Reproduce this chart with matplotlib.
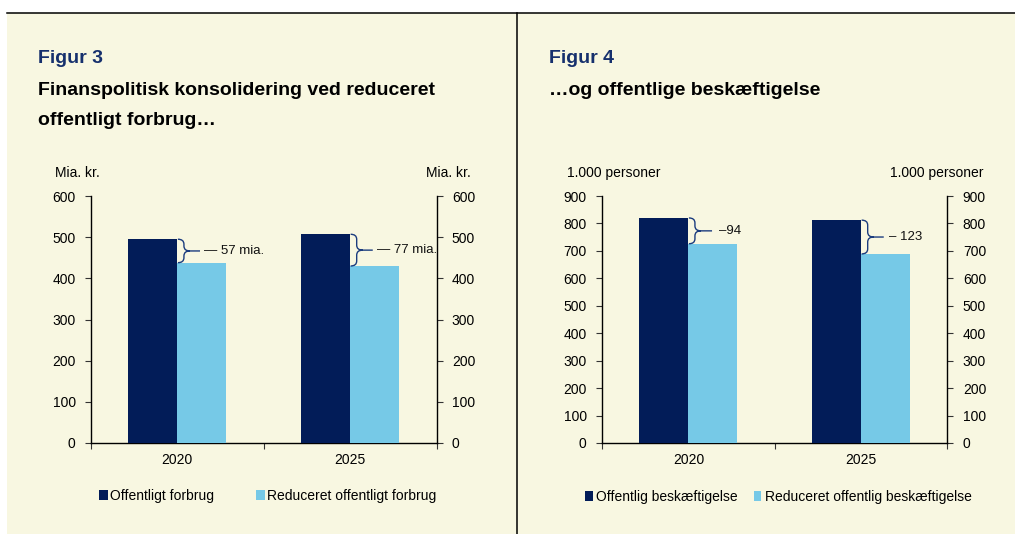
import matplotlib
matplotlib.use("Agg")
import matplotlib.pyplot as plt
from matplotlib.path import Path
from matplotlib.patches import PathPatch, Rectangle
from matplotlib.lines import Line2D

plt.rcParams['font.family'] = ['Liberation Sans', 'DejaVu Sans']
plt.rcParams['font.size'] = 10

# data
years = ['2020', '2025']
forbrug = [495, 507]
forbrug_red = [438, 430]
forbrug_txt = ['\u2014 57 mia.', '\u2014 77 mia.']
besk = [820, 812]
besk_red = [726, 689]
besk_txt = ['\u201394', '\u2013 123']

dark = '#021C58'
light = '#76C9E7'
cream = '#F8F7E1'
navy_txt = '#16306D'
brace_col = '#1B3C7E'

W, H = 1015, 534
fig = plt.figure(figsize=(W / 100, H / 100), dpi=100)
fig.patch.set_facecolor('white')

def fx(px):
    return px / W

def fy(py):
    return 1 - py / H

# cream panel and frame lines
fig.add_artist(Rectangle((fx(7), 0), fx(1015 - 7), fy(12.5), transform=fig.transFigure,
                         facecolor=cream, edgecolor='none', zorder=0))
fig.add_artist(Line2D([fx(7), fx(1015)], [fy(12.5), fy(12.5)], transform=fig.transFigure,
                      color='black', lw=1.1))
fig.add_artist(Line2D([fx(516.8), fx(516.8)], [fy(12.5), 0], transform=fig.transFigure,
                      color='black', lw=1.1))


def brace(ax, x, y1, y2, w, r, tail):
    ym = (y1 + y2) / 2
    xm = x + w / 2
    verts = [(x, y1), (xm, y1), (xm, y1 - r), (xm, ym + r), (xm, ym), (x + w, ym),
             (x, y2), (xm, y2), (xm, y2 + r), (xm, ym - r), (xm, ym), (x + w, ym),
             (x + w, ym), (x + w + tail, ym)]
    codes = [Path.MOVETO, Path.CURVE3, Path.CURVE3, Path.LINETO, Path.CURVE3, Path.CURVE3,
             Path.MOVETO, Path.CURVE3, Path.CURVE3, Path.LINETO, Path.CURVE3, Path.CURVE3,
             Path.MOVETO, Path.LINETO]
    ax.add_patch(PathPatch(Path(verts, codes), facecolor='none', edgecolor=brace_col,
                           lw=1.0, zorder=4))


def panel(left, a, b, ymax, txts, tails, txt_x, lab_a, lab_b):
    ax = fig.add_axes([fx(left), fy(443), fx(345.5), fy(196) - fy(443)])
    ax.set_facecolor('none')
    bw = 0.283
    x = range(len(years))
    ax.bar([i - bw / 2 for i in x], a, bw, color=dark, label=lab_a, zorder=3)
    ax.bar([i + bw / 2 for i in x], b, bw, color=light, label=lab_b, zorder=3)
    ax.set_xlim(-0.5, 1.5)
    ax.set_ylim(0, ymax)
    ax.set_yticks(range(0, ymax + 1, 100))
    ax.set_xticks([-0.5, 0.5, 1.5])
    ax.set_xticklabels([])
    ax.set_xticks([0, 1], minor=True)
    ax.set_xticklabels(years, minor=True)
    ax.tick_params(axis='x', which='major', direction='out', length=4, color='#333333')
    ax.tick_params(axis='x', which='minor', length=0, pad=7)
    ax.tick_params(axis='y', left=True, right=True, labelleft=True, labelright=True,
                   length=4, color='#333333', pad=7)
    ax.spines['top'].set_visible(False)
    for s in ['left', 'right', 'bottom']:
        ax.spines[s].set_linewidth(1.0)
    r = ymax / 247.0 * 5
    for i in x:
        brace(ax, i + 0.003, a[i], b[i], 0.07, r, tails[i])
        ax.text(i + txt_x[i], (a[i] + b[i]) / 2, txts[i], va='center', ha='left',
                fontsize=9.5, color='#111111', zorder=5)
    return ax


ax1 = panel(91, forbrug, forbrug_red, 600, forbrug_txt, [0.058, 0.058], [0.153, 0.153],
            'Offentligt forbrug', 'Reduceret offentligt forbrug')
ax2 = panel(602, besk, besk_red, 900, besk_txt, [0.064, 0.058], [0.175, 0.163],
            'Offentlig besk\u00e6ftigelse', 'Reduceret offentlig besk\u00e6ftigelse')

ax1.legend(loc='center left', bbox_to_anchor=(fx(99), fy(496)), bbox_transform=fig.transFigure,
           ncol=2, frameon=False, fontsize=10, handlelength=0.65, handleheight=0.65,
           handletextpad=0.15, columnspacing=3.0, borderpad=0, borderaxespad=0)
ax2.legend(loc='center left', bbox_to_anchor=(fx(585), fy(497)), bbox_transform=fig.transFigure,
           ncol=2, frameon=False, fontsize=10, handlelength=0.55, handleheight=0.65,
           handletextpad=0.25, columnspacing=1.15, borderpad=0, borderaxespad=0)

# titles and unit labels
fig.text(fx(38), fy(63), 'Figur 3', fontsize=14, fontweight='bold', color=navy_txt, va='baseline')
fig.text(fx(38), fy(95), 'Finanspolitisk konsolidering ved reduceret', fontsize=14,
         fontweight='bold', color='black', va='baseline')
fig.text(fx(38), fy(125), 'offentligt forbrug\u2026', fontsize=14, fontweight='bold',
         color='black', va='baseline')
fig.text(fx(55), fy(177), 'Mia. kr.', fontsize=10, va='baseline')
fig.text(fx(471), fy(177), 'Mia. kr.', fontsize=10, va='baseline', ha='right')

fig.text(fx(549), fy(63), 'Figur 4', fontsize=14, fontweight='bold', color=navy_txt, va='baseline')
fig.text(fx(549), fy(95), '\u2026og offentlige besk\u00e6ftigelse', fontsize=14,
         fontweight='bold', color='black', va='baseline')
fig.text(fx(567), fy(177), '1.000 personer', fontsize=10, va='baseline')
fig.text(fx(983), fy(177), '1.000 personer', fontsize=10, va='baseline', ha='right')

fig.savefig('out.png', dpi=100, facecolor=fig.get_facecolor())
